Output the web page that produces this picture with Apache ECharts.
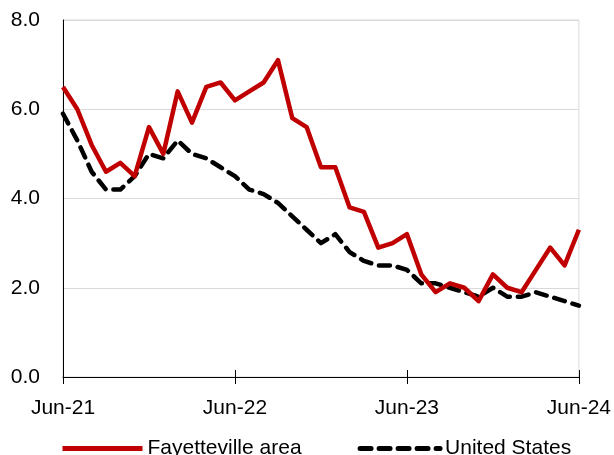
<!DOCTYPE html>
<html>
<head>
<meta charset="utf-8">
<script src="https://cdn.jsdelivr.net/npm/echarts@6/dist/echarts.min.js"></script>
<style>
  html, body { margin: 0; padding: 0; background: #fff; }
  #chart { width: 614px; height: 455px; }
</style>
</head>
<body>
<div id="chart"></div>
<script>
// monthly, Jun-21 .. Jun-24
const months = [
  'Jun-21', 'Jul-21', 'Aug-21', 'Sep-21', 'Oct-21', 'Nov-21', 'Dec-21',
  'Jan-22', 'Feb-22', 'Mar-22', 'Apr-22', 'May-22', 'Jun-22', 'Jul-22',
  'Aug-22', 'Sep-22', 'Oct-22', 'Nov-22', 'Dec-22', 'Jan-23', 'Feb-23',
  'Mar-23', 'Apr-23', 'May-23', 'Jun-23', 'Jul-23', 'Aug-23', 'Sep-23',
  'Oct-23', 'Nov-23', 'Dec-23', 'Jan-24', 'Feb-24', 'Mar-24', 'Apr-24',
  'May-24', 'Jun-24',
]
const fayetteville = [
  6.5, 6.0, 5.2, 4.6, 4.8, 4.5, 5.6, 5.0, 6.4, 5.7, 6.5, 6.6, 6.2, 6.4,
  6.6, 7.1, 5.8, 5.6, 4.7, 4.7, 3.8, 3.7, 2.9, 3.0, 3.2, 2.3, 1.9, 2.1,
  2.0, 1.7, 2.3, 2.0, 1.9, 2.4, 2.9, 2.5, 3.3,
]
const unitedStates = [
  5.9, 5.3, 4.6, 4.2, 4.2, 4.5, 5.0, 4.9, 5.3, 5.0, 4.9, 4.7, 4.5, 4.2,
  4.1, 3.9, 3.6, 3.3, 3.0, 3.2, 2.8, 2.6, 2.5, 2.5, 2.4, 2.1, 2.1, 2.0,
  1.9, 1.8, 2.0, 1.8, 1.8, 1.9, 1.8, 1.7, 1.6,
]

const font = 'Liberation Sans'
const fontSize = 21

const myChart = echarts.init(document.getElementById('chart'))
const option = {
  animation: false,
  textStyle: { fontFamily: font },
  grid: {
    left: 63,
    right: 34,
    top: 20,
    bottom: 78,
    show: true,
    borderColor: '#d9d9d9',
    borderWidth: 1,
  },
  legend: {
    left: 55,
    top: 433,
    itemWidth: 80,
    itemHeight: 12,
    itemGap: 56,
    lineStyle: { width: 5 },
    itemStyle: { opacity: 0 },
    textStyle: { fontSize: fontSize, color: '#000', fontFamily: font },
    data: ['Fayetteville area', 'United States'],
  },
  xAxis: [
    {
      type: 'category',
      data: months,
      boundaryGap: false,
      position: 'bottom',
      axisLine: { lineStyle: { color: '#000', width: 1 } },
      axisTick: { interval: 11, length: 7, lineStyle: { color: '#000' } },
      axisLabel: {
        interval: 11,
        margin: 21,
        fontSize: fontSize,
        color: '#000',
        fontFamily: font,
        showMaxLabel: true,
      },
      splitLine: { show: false },
    },
    {
      type: 'category',
      data: months,
      boundaryGap: false,
      position: 'bottom',
      axisLine: { show: false },
      axisTick: { interval: 11, length: 7, inside: true, lineStyle: { color: '#000' } },
      axisLabel: { show: false },
      splitLine: { show: false },
    },
  ],
  yAxis: {
    type: 'value',
    min: 0,
    max: 8,
    interval: 2,
    axisLine: { show: true, lineStyle: { color: '#000', width: 1 } },
    axisTick: { show: false },
    axisLabel: {
      margin: 23,
      fontSize: fontSize,
      color: '#000',
      fontFamily: font,
      formatter: (v) => v.toFixed(1),
    },
    splitLine: { lineStyle: { color: '#d9d9d9', width: 1 } },
  },
  series: [
    {
      name: 'Fayetteville area',
      type: 'line',
      data: fayetteville,
      symbol: 'none',
      lineStyle: { color: '#c00000', width: 4.5, join: 'round' },
      itemStyle: { color: '#c00000' },
      z: 3,
    },
    {
      name: 'United States',
      type: 'line',
      data: unitedStates,
      symbol: 'none',
      lineStyle: {
        color: '#000',
        width: 4.5,
        type: [11, 8],
        cap: 'round',
        join: 'round',
      },
      itemStyle: { color: '#000' },
      z: 2,
    },
  ],
}
myChart.setOption(option)
</script>
</body>
</html>
